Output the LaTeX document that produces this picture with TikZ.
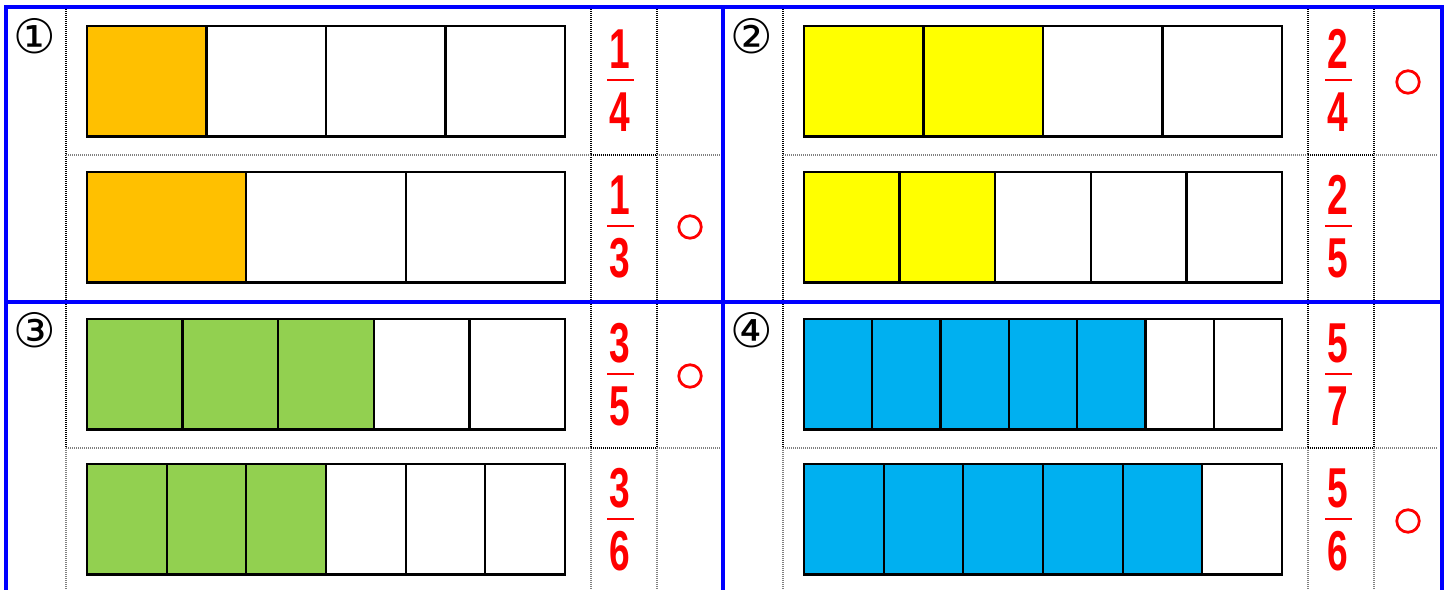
\documentclass[tikz,border=0pt]{standalone}
\usepackage{graphicx}
\usepackage{fontspec}
\setmainfont{Liberation Sans}
\newfontfamily\symfont{DejaVu Sans}
\usetikzlibrary{positioning}
\definecolor{barorange}{HTML}{FFC000}
\definecolor{baryellow}{HTML}{FFFF00}
\definecolor{bargreen}{HTML}{92D050}
\definecolor{barcyan}{HTML}{00B0F0}
\newcommand{\nar}[1]{\scalebox{0.66}[1]{#1}}

\begin{document}
\begin{tikzpicture}[
    x=0.02cm, y=-0.02cm,
    frame/.style={draw=blue, line width=0.08cm},
    dotline/.style={line width=0.035cm, dash pattern=on 0.02cm off 0.02cm},
    strip/.style={draw=black, line width=0.045cm},
    tag/.style={font=\symfont\fontsize{27}{27}\selectfont, inner sep=0pt},
    num/.style={text=red, font=\bfseries\fontsize{32}{32}\selectfont, inner sep=0pt},
    fracline/.style={fill=red, minimum width=0.54cm, minimum height=0.035cm, inner sep=0pt},
    okmark/.style={circle, draw=red, line width=0.055cm, minimum size=0.45cm, inner sep=0pt}
]
\useasboundingbox (0,0) rectangle (1449,590);

% dotted grid in both halves
\foreach \ox in {0,717} {
  \foreach \gx in {66,591,657} {
    \draw[dotline] ({\ox+\gx},9.5) -- ({\ox+\gx},300);
    \draw[dotline] ({\ox+\gx},304) -- ({\ox+\gx},448);
    \draw[dotline, gray] ({\ox+\gx},448) -- ({\ox+\gx},590);
  }
  \foreach \gy in {155,448} {
    \draw[dotline, gray] ({\ox+66},\gy) -- ({\ox+591},\gy);
    \draw[dotline] ({\ox+591},\gy) -- ({\ox+657},\gy);
    \draw[dotline, gray] ({\ox+657},\gy) -- ({\ox+721},\gy);
  }
}

% blue frame
\draw[frame] (6,590) -- (6,7.5) -- (1441.5,7.5) -- (1441.5,590);
\draw[frame] (723,7.5) -- (723,590);
\draw[frame] (6,302) -- (1441.5,302);

% strips: left x / top y / parts / filled / colour
\foreach \sx/\sy/\n/\k/\c in {87/26/4/1/barorange, 87/172/3/1/barorange,
    804/26/4/2/baryellow, 804/172/5/2/baryellow,
    87/319/5/3/bargreen, 87/464/6/3/bargreen,
    804/319/7/5/barcyan, 804/464/6/5/barcyan} {
  \pgfmathsetmacro{\w}{478/\n}
  \foreach \i in {1,...,\k}
    \fill[\c] ({\sx+(\i-1)*\w},\sy) rectangle ++(\w,110.5);
  \foreach \i in {1,...,\n}
    \draw[strip] ({\sx+(\i-1)*\w},\sy) rectangle ++(\w,110.5);
}

% numbers
\node[tag] (tag1) at (35,36) {①};
\node[tag] (tag2) at (752,36) {②};
\node[tag] (tag3) at (35,330) {③};
\node[tag] (tag4) at (752,330) {④};

% fractions
\foreach \fx/\fy/\a/\b [count=\i] in {620/81/1/4, 620/227/1/3, 1338/81/2/4, 1338/227/2/5,
    620/375/3/5, 620/520/3/6, 1338/375/5/7, 1338/520/5/6} {
  \node[num] (num\i) at (\fx,{\fy-32}) {\nar{\a}};
  \node[fracline] (line\i) at (\fx,{\fy-1}) {};
  \node[num] (den\i) at (\fx,{\fy+31}) {\nar{\b}};
}

% marks
\node[okmark] (ok1) at (690,227) {};
\node[okmark] (ok2) at (1408,82) {};
\node[okmark] (ok3) at (690,376) {};
\node[okmark] (ok4) at (1408,521) {};
\end{tikzpicture}
\end{document}
